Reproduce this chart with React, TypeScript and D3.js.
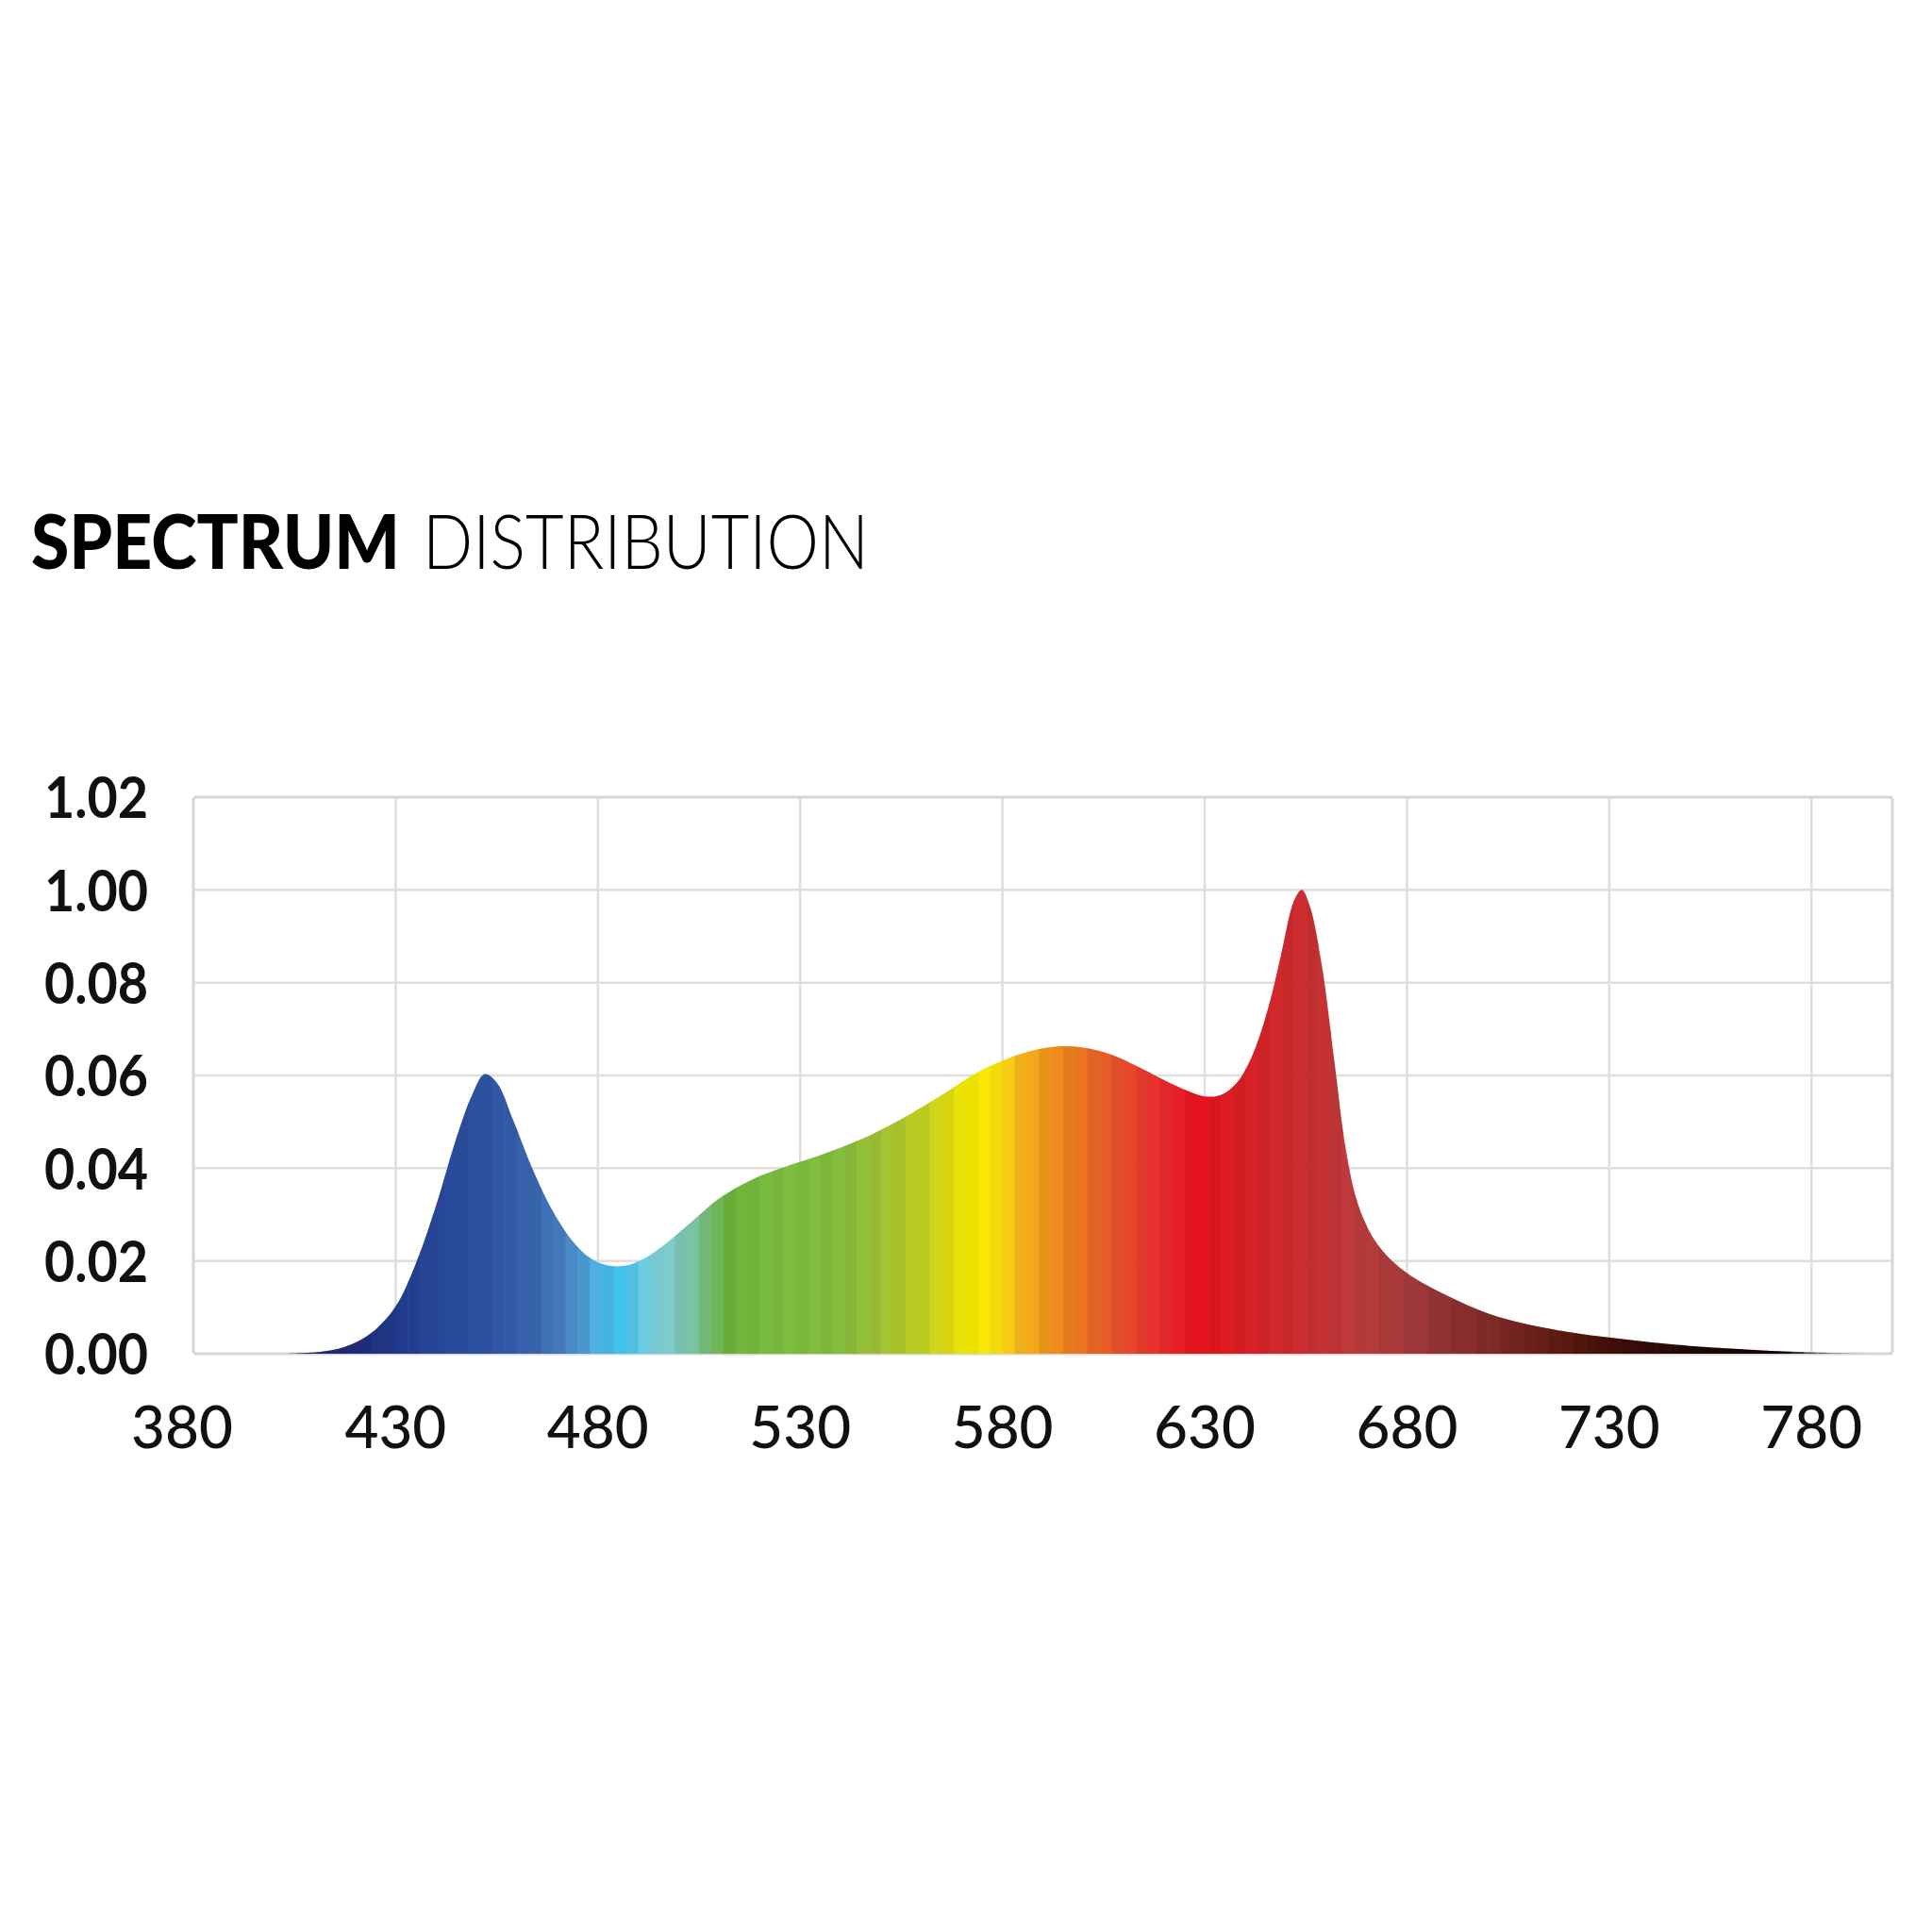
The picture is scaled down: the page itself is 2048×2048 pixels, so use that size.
import React from "react";
import * as d3 from "d3";

// ---- data ----
const titleBold = "SPECTRUM";
const titleLight = "DISTRIBUTION";

const xTicks = [380, 430, 480, 530, 580, 630, 680, 730, 780];
const yTickValues = [0, 0.02, 0.04, 0.06, 0.08, 0.1, 0.12];
const yTickLabels = ["0.00", "0.02", "0.04", "0.06", "0.08", "1.00", "1.02"];

const wavelengths = [
  403, 410, 415, 420, 425, 430, 435, 440, 445, 449, 452, 455, 459, 464, 469, 474, 478, 482, 486,
  490, 496, 503, 510, 518, 526, 535, 545, 555, 565, 575, 585, 593, 600, 607, 614, 620, 626, 630,
  634, 638, 642, 646, 649, 652, 654, 656, 659, 662, 665, 668, 672, 676, 681, 690, 700, 710, 720,
  730, 740, 750, 760, 770, 780, 790, 795,
];
const intensity = [
  0, 0.0003, 0.0009, 0.0024, 0.0052, 0.0102, 0.0195, 0.032, 0.0465, 0.056, 0.0603, 0.0585, 0.0505,
  0.0395, 0.0305, 0.024, 0.0207, 0.0191, 0.0189,
  0.0199, 0.0232, 0.0283, 0.0335, 0.0375, 0.0402, 0.0428, 0.0462, 0.0506, 0.0558, 0.0612, 0.0648,
  0.0662, 0.066, 0.0645, 0.0617, 0.059, 0.0566, 0.0555,
  0.0558, 0.0585, 0.0648, 0.0755, 0.0865, 0.0975, 0.1, 0.0965, 0.0835, 0.0635, 0.0435, 0.032,
  0.0245, 0.0203, 0.0168, 0.0125, 0.0087, 0.0063, 0.0047, 0.0035,
  0.0025, 0.0017, 0.0011, 0.0006, 0.0003, 0.0001, 0,
];

// spectrum colour stops (wavelength -> colour)
const colorStopsNm = [
  400, 420, 432, 445, 455, 465, 473, 480, 486, 494, 503, 512, 525, 540, 552, 562, 572, 578, 584,
  592, 602, 612, 620, 628, 640, 655, 668, 680, 692, 705, 718, 732, 750, 772, 785, 795,
];
const colorStops = [
  "#2a2a55", "#1f2b78", "#213d8f", "#2a4d9d", "#3056a6", "#3a67b1", "#4a86c5", "#4fb2e4",
  "#3ec3ec", "#7fd0e0", "#7cc3a6", "#6cb33a", "#7cbd40", "#84bd3c", "#a5c431", "#cad31d",
  "#f4e800", "#fbe60a", "#f8b81a", "#f0901a", "#e86a25", "#e8452a", "#e82a30", "#e8101c",
  "#d82025", "#cb2d30", "#bb3c3c", "#a53a3a", "#8c3030", "#782620", "#5c1a10", "#3e0e08",
  "#220604", "#100000", "#8a8a8a", "#cccccc",
];

const W = 2048;
const H = 2048;
const plot = { left: 205, right: 2006, top: 845, bottom: 1435 };

export default function App() {
  const x = d3.scaleLinear().domain([380, 800]).range([plot.left, plot.right]);
  const y = d3.scaleLinear().domain([0, 0.12]).range([plot.bottom, plot.top]);
  const color = d3
    .scaleLinear<string>()
    .domain(colorStopsNm)
    .range(colorStops)
    .interpolate(d3.interpolateRgb);

  const pts = wavelengths.map((w, i) => [w, intensity[i]] as [number, number]);
  const area = d3
    .area<[number, number]>()
    .x((d) => x(d[0]))
    .y0(y(0))
    .y1((d) => Math.min(y(0), y(d[1])))
    .curve(d3.curveCatmullRom.alpha(0.5));

  // vertical strips for the banded spectrum look
  const stripStep = 3;
  const strips = d3.range(400, 796, stripStep);

  const font = "Lato, 'Open Sans', sans-serif";
  const grid = "#dedede";

  return (
    <svg
      width={W}
      height={H}
      viewBox={`0 0 ${W} ${H}`}
      style={{ position: "absolute", left: 0, top: 0, background: "#fff" }}
    >
      <rect x={0} y={0} width={W} height={H} fill="#fff" />
      {/* title */}
      <text x={33} y={603} fontFamily={font} fontSize={80}>
        <tspan fontWeight={900} textLength={391} lengthAdjust="spacingAndGlyphs">
          {titleBold}
        </tspan>
      </text>
      <text
        x={448}
        y={603}
        fontFamily={font}
        fontSize={80}
        fontWeight={300}
        textLength={473}
        lengthAdjust="spacingAndGlyphs"
      >
        {titleLight}
      </text>

      {/* grid */}
      {xTicks.slice(1).map((t) => (
        <line
          key={"gx" + t}
          x1={x(t)}
          x2={x(t)}
          y1={plot.top}
          y2={plot.bottom}
          stroke={grid}
          strokeWidth={2.5}
        />
      ))}
      {yTickValues.slice(1, -1).map((t) => (
        <line
          key={"gy" + t}
          x1={plot.left}
          x2={plot.right}
          y1={y(t)}
          y2={y(t)}
          stroke={grid}
          strokeWidth={2.5}
        />
      ))}
      <rect
        x={plot.left}
        y={plot.top}
        width={plot.right - plot.left}
        height={plot.bottom - plot.top}
        fill="none"
        stroke="#d6d6d6"
        strokeWidth={3}
        rx={3}
      />

      {/* spectrum area */}
      <defs>
        <clipPath id="specClip">
          <path d={area(pts) || ""} />
        </clipPath>
      </defs>
      <g clipPath="url(#specClip)">
        {strips.map((w, i) => {
          const base = d3.rgb(color(w + stripStep / 2));
          const c = i % 2 === 0 ? base : base.darker(0.1);
          return (
            <rect
              key={"s" + w}
              x={x(w)}
              y={plot.top}
              width={x(w + stripStep) - x(w) + 0.6}
              height={plot.bottom - plot.top}
              fill={c.formatRgb()}
            />
          );
        })}
      </g>

      {/* y labels */}
      {yTickValues.map((t, i) => (
        <text
          key={"yl" + t}
          x={157}
          y={y(t)}
          dy="0.36em"
          textAnchor="end"
          fontFamily={font}
          fontWeight={700}
          fontSize={62}
          fill="#111"
          textLength={110}
          lengthAdjust="spacingAndGlyphs"
        >
          {yTickLabels[i]}
        </text>
      ))}

      {/* x labels */}
      {xTicks.map((t) => (
        <text
          key={"xl" + t}
          x={t === 380 ? x(t) - 12 : x(t)}
          y={1535}
          textAnchor="middle"
          fontFamily={font}
          fontWeight={500}
          fontSize={62}
          fill="#111"
        >
          {t}
        </text>
      ))}
    </svg>
  );
}
